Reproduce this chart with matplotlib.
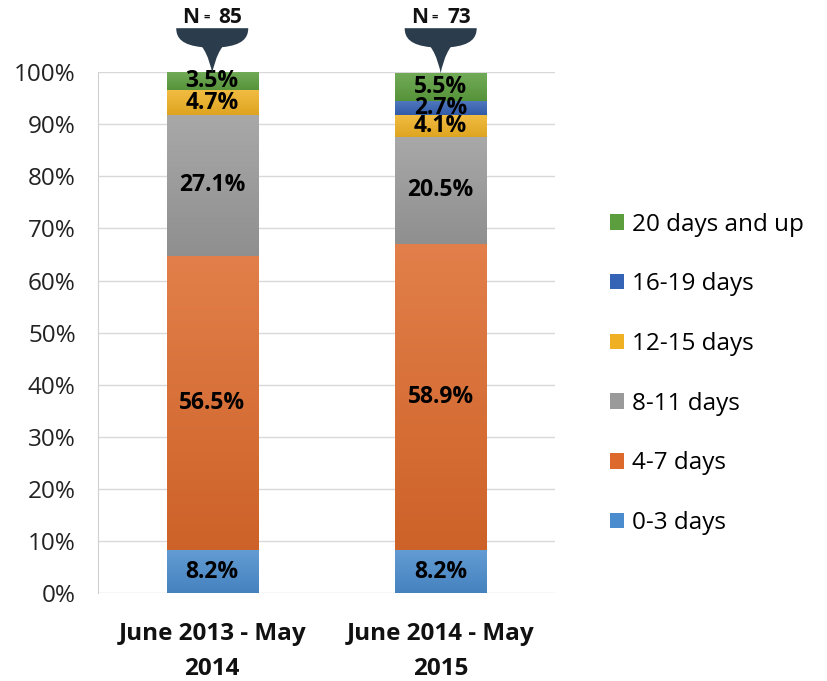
import numpy as np
import matplotlib.pyplot as plt
from matplotlib.path import Path
from matplotlib.patches import PathPatch
from matplotlib.colors import LinearSegmentedColormap, to_rgb
from matplotlib.transforms import IdentityTransform, blended_transform_factory

plt.rcParams['font.family'] = ['Open Sans', 'DejaVu Sans']

periods = ["June 2013 - May\n2014", "June 2014 - May\n2015"]
sample_n = [85, 73]
groups = ["0-3 days", "4-7 days", "8-11 days", "12-15 days", "16-19 days", "20 days and up"]
share = {
    "0-3 days": [8.2, 8.2],
    "4-7 days": [56.5, 58.9],
    "8-11 days": [27.1, 20.5],
    "12-15 days": [4.7, 4.1],
    "16-19 days": [0.0, 2.7],
    "20 days and up": [3.5, 5.5],
}
colors = {
    "0-3 days": "#4a8ccd",
    "4-7 days": "#dd6a2c",
    "8-11 days": "#9a9a9a",
    "12-15 days": "#efb123",
    "16-19 days": "#3563b5",
    "20 days and up": "#5c9e3e",
}


def shade(c):
    # lighter at the top, a bit darker at the bottom, like the excel fill
    rgb = np.array(to_rgb(c))
    top = rgb + (1 - rgb) * 0.14
    bot = rgb * 0.93
    return LinearSegmentedColormap.from_list("g", [bot, top])


fig = plt.figure(figsize=(8.27, 6.81), dpi=100)
ax = fig.add_axes([0.1185, 0.129, 0.5525, 0.765])

x = np.arange(len(periods))
width = 0.40
bottom = np.zeros(len(periods))
handles = []
grad = np.linspace(0, 1, 64).reshape(-1, 1)
for g in groups:
    vals = np.array(share[g])
    b = ax.bar(x, vals, width, bottom=bottom, color=colors[g], label=g, zorder=2)
    handles.append(b)
    for patch, xi, v, b0 in zip(b.patches, x, vals, bottom):
        if v <= 0:
            continue
        im = ax.imshow(grad, cmap=shade(colors[g]), origin="lower", aspect="auto",
                       extent=(xi - width / 2, xi + width / 2, b0, b0 + v), zorder=2.5)
        im.set_clip_path(patch)
        ax.text(xi, b0 + v / 2, f"{v:.1f}%", ha="center", va="center",
                fontsize=16.5, fontweight="bold", color="black", zorder=3)
    bottom += vals

ax.set_xlim(-0.5, 1.5)
ax.set_ylim(0, 100)
ax.set_yticks(np.arange(0, 101, 10))
ax.set_yticklabels([f"{t}%" for t in range(0, 101, 10)])
ax.set_xticks(x)
ax.set_xticklabels(periods, fontweight="bold", linespacing=1.6)
ax.tick_params(axis="y", length=0, labelsize=17.5, labelcolor="#222222", pad=16)
ax.tick_params(axis="x", length=0, labelsize=17.5, labelcolor="#111111", pad=21)
ax.grid(axis="y", color="#d9d9d9", linewidth=1, zorder=0)
for s in ["top", "right", "bottom"]:
    ax.spines[s].set_visible(False)
ax.spines["left"].set_color("#d0d0d0")

leg = ax.legend(handles[::-1], groups[::-1], loc="center left",
                bbox_to_anchor=(1.12, 0.421), frameon=False, fontsize=17.5,
                labelspacing=1.47, handlelength=0.6, handleheight=0.6,
                handletextpad=0.3, borderpad=0, borderaxespad=0)

# N callouts above each bar
fig.canvas.draw()
trans = blended_transform_factory(ax.transData, ax.transAxes)
shape = [(-36, 45), (36, 45), (36, 35), (30, 28), (10, 26), (4, 18), (1, 5), (0, 0),
         (-1, 5), (-4, 18), (-10, 26), (-30, 28), (-36, 35), (-36, 45)]
codes = [Path.MOVETO, Path.LINETO] + [Path.CURVE4] * 12
for xi, n in zip(x, sample_n):
    ax0, ay0 = trans.transform((xi, 1.0))
    ay0 -= 1
    verts = [(ax0 + dx, ay0 + dy) for dx, dy in shape]
    fig.add_artist(PathPatch(Path(verts, codes), facecolor="#2b3d4d",
                             edgecolor="none", transform=IdentityTransform()))
    fx, fy = fig.transFigure.inverted().transform((ax0, ay0 + 56))
    fig.text(fx - 0.026, fy, "N", ha="center", va="center", fontsize=15,
             fontweight="bold", color="#111111")
    fig.text(fx - 0.007, fy, "=", ha="center", va="center", fontsize=8,
             fontweight="bold", color="#111111")
    fig.text(fx + 0.022, fy, str(n), ha="center", va="center", fontsize=15,
             fontweight="bold", color="#111111")

fig.savefig("out.png", dpi=100)
